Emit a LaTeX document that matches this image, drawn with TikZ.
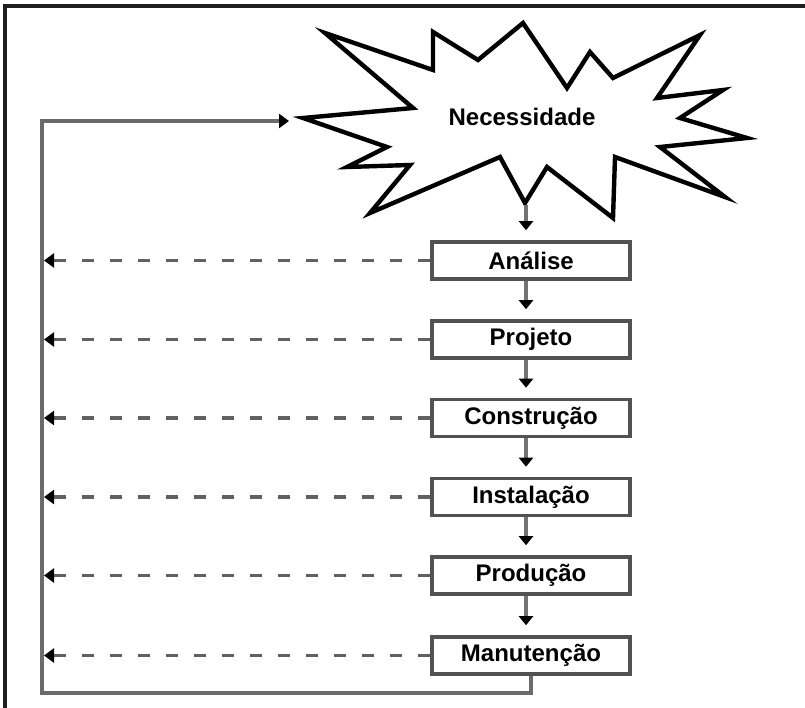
\documentclass[tikz,border=0pt]{standalone}
\usepackage{fontspec}
\setmainfont{Liberation Sans}
\usetikzlibrary{arrows.meta}
\begin{document}
\begin{tikzpicture}[x=1pt,y=-1pt,
  stagebox/.style={draw=black!68,line width=3.6pt,fill=white,
    minimum width=198pt,minimum height=37pt,inner sep=0pt,
    font=\fontsize{24}{28}\selectfont\bfseries},
  burst/.style={draw=black,line width=4.4pt,fill=white,line join=miter},
  flow/.style={draw=black!55,line width=4pt,
    -{Triangle[length=9pt,width=14pt,fill=black,color=black]}},
  backdash/.style={draw=black!62,line width=3.6pt,dash pattern=on 12pt off 16pt,
    -{Triangle[length=10pt,width=14pt,fill=black,color=black]}},
  feedback/.style={draw=black!58,line width=4.6pt,line join=miter,
    -{Triangle[length=10pt,width=14pt,fill=black,color=black]}},
  frame/.style={draw=black!88,line width=3.4pt}]
\useasboundingbox (0,0) rectangle (805,708);

% outer frame (top and left edges)
\draw[frame] (5,708) -- (5,6) -- (805,6);

% starburst around the first step
\draw[burst] (325,33) -- (433,70) -- (433,32) -- (478,60) -- (523,23)
  -- (567,88) -- (590,52) -- (613,78) -- (700,35) -- (657,98) -- (723,90)
  -- (680,118) -- (747,138) -- (660,147) -- (725,197) -- (615,157)
  -- (613,218) -- (547,167) -- (525,203) -- (500,157) -- (370,213)
  -- (410,165) -- (347,167) -- (387,147) -- (303,118) -- (413,108) -- cycle;
\node[font=\fontsize{24}{28}\selectfont\bfseries] (nec) at (522,117) {Necessidade};
\coordinate (burstbot) at (526,205);
\coordinate (feedtip) at (289,121);

% process stages
\node[stagebox] (ana) at (531,260.5) {Análise};
\node[stagebox] (pro) at (531,339.5) {Projeto};
\node[stagebox] (con) at (531,418) {Construção};
\node[stagebox] (ins) at (531,497) {Instalação};
\node[stagebox] (prd) at (531,575.5) {Produção};
\node[stagebox] (man) at (531,655.5) {Manutenção};

% forward flow
\draw[flow] (burstbot) -- ([yshift=10pt]ana.north -| burstbot);
\foreach \a/\b in {ana/pro,pro/con,con/ins,ins/prd,prd/man}
  \draw[flow] ([xshift=-5pt]\a.south) -- ([xshift=-5pt,yshift=10pt]\b.north);

% return rail on the left
\coordinate (railtop) at (42,121);
\coordinate (railbot) at (42,693);
\draw[feedback] (man.south) |- (railbot) -- (railtop) -- (feedtip);

% dashed returns from each stage to the rail
\foreach \s in {ana,pro,con,ins,prd,man}
  \draw[backdash] (\s.west) -- (\s.west -| 44,0);
\end{tikzpicture}
\end{document}
